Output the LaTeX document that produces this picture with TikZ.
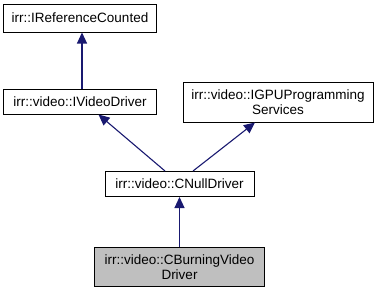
\documentclass[tikz,border=0pt]{standalone}
\usepackage{fontspec}
\setmainfont{Liberation Sans}
\usepackage{xcolor}
\usepackage{tikz}
\usetikzlibrary{arrows.meta,positioning}
\definecolor{edgeblue}{RGB}{25,25,112}
\definecolor{hlgray}{RGB}{191,191,191}
\tikzstyle{cls} = [rectangle, draw=black, fill=white, line width=1pt,
    inner sep=0pt, text centered, align=center,
    font=\fontsize{13.5}{15.5}\selectfont]
\tikzstyle{inh} = [line width=1.1pt, draw=edgeblue,
    -{Triangle[length=11pt,width=10pt]}]

\begin{document}
\begin{tikzpicture}[x=1pt,y=1pt]
\useasboundingbox (0,0) rectangle (379,-293);
% Base classes
\node[cls, minimum width=153pt, minimum height=28pt] (refc) at (80,-18) {irr::IReferenceCounted};
\node[cls, minimum width=153pt, minimum height=25pt, below=56pt of refc] (vdrv) {irr::video::IVideoDriver};
\node[cls, minimum width=190pt, minimum height=40pt] (gpu) at (278,-102) {irr::video::IGPUProgramming\\Services};
% Derived classes
\node[cls, minimum width=149pt, minimum height=25pt] (cnull) at (179.5,-184) {irr::video::CNullDriver};
\node[cls, fill=hlgray, minimum width=170pt, minimum height=39pt, below=50pt of cnull] (cburn) {irr::video::CBurningVideo\\Driver};
% Inheritance arrows
\draw[inh] ([xshift=2pt]vdrv.north) -- ([xshift=2pt]refc.south);
\draw[inh] ([xshift=-14.5pt]cnull.north) -- ([xshift=18.5pt]vdrv.south);
\draw[inh] ([xshift=13.5pt]cnull.north) -- ([xshift=-23pt]gpu.south);
\draw[inh] (cburn) -- (cnull);
\end{tikzpicture}
\end{document}
